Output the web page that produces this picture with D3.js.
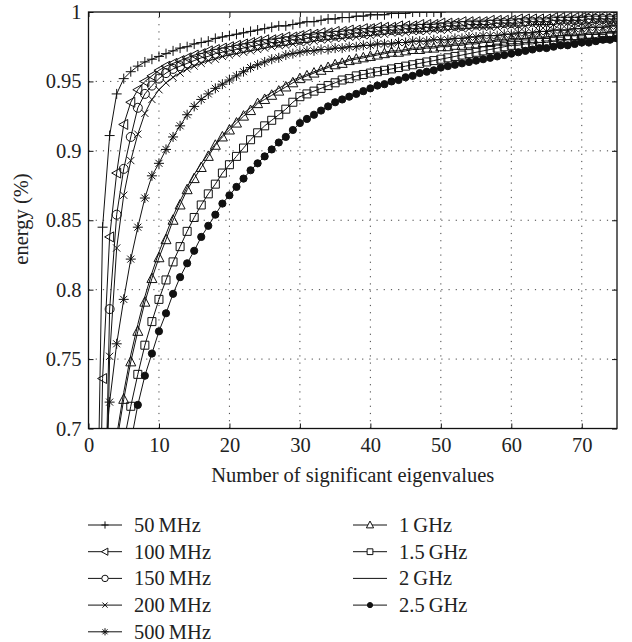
<!DOCTYPE html>
<html>
  <head>
    <script src="https://d3js.org/d3.v7.min.js" charset="utf-8"></script>
    <meta charset="UTF-8">
    <title>energy vs eigenvalues</title>
    <style>
      body { margin: 0; background: #fff; }
      text { font-family: "Liberation Serif", "DejaVu Serif", serif; fill: #222; }
      .grid line { stroke: #444; stroke-width: 1; stroke-dasharray: 1.2,6; }
      .curve { fill: none; stroke: #111; stroke-width: 1; }
      .mark { fill: none; stroke: #111; stroke-width: 1; }
    </style>
  </head>
  <body>
    <svg class="chart"></svg>
    <script type="text/javascript">

      var width = 632,
          height = 642,
          plotLeft = 88.5,
          plotRight = 617,
          plotTop = 12,
          plotBottom = 428.5,
          fontSize = "20.5px";

      // values, one per eigenvalue count, starting at xStart
      var labels = ["50\u2009MHz", "100\u2009MHz", "150\u2009MHz", "200\u2009MHz", "500\u2009MHz",
                    "1\u2009GHz", "1.5\u2009GHz", "2\u2009GHz", "2.5\u2009GHz"];
      var markers = ["plus", "triLeft", "circle", "times", "star", "triUp", "square", "none", "dot"];
      var xStart = [1, 1, 2, 2, 2, 4, 5, 4, 6];

      var mhz50 = [0.55, 0.845, 0.911, 0.941, 0.952, 0.957, 0.961, 0.964, 0.966, 0.968,
                   0.970, 0.972, 0.974, 0.975, 0.977, 0.978, 0.979, 0.981, 0.982, 0.983,
                   0.984, 0.985, 0.986, 0.987, 0.988, 0.989, 0.990, 0.990, 0.991, 0.992,
                   0.993, 0.993, 0.994, 0.995, 0.995, 0.996, 0.996, 0.997, 0.997, 0.998,
                   0.998, 0.998, 0.999, 0.999, 0.999, 1.0, 1.0, 1.0, 1.0, 1.0];
      var mhz100 = [0.45, 0.736, 0.838, 0.884, 0.919, 0.935, 0.944, 0.950, 0.954, 0.958,
                    0.961, 0.963, 0.965, 0.967, 0.969, 0.970, 0.972, 0.973, 0.974, 0.975,
                    0.976, 0.977, 0.978, 0.979, 0.980, 0.980, 0.981, 0.982, 0.982, 0.983,
                    0.984, 0.984, 0.985, 0.985, 0.986, 0.986, 0.987, 0.987, 0.988, 0.988,
                    0.989, 0.989, 0.989, 0.990, 0.990, 0.990, 0.991, 0.991, 0.991, 0.992,
                    0.992, 0.992, 0.993, 0.993, 0.993, 0.993, 0.994, 0.994, 0.994, 0.994,
                    0.995, 0.995, 0.995, 0.995, 0.995, 0.996, 0.996, 0.996, 0.996, 0.996,
                    0.997, 0.997, 0.997, 0.997, 0.997];
      var mhz150 = [0.55, 0.786, 0.854, 0.887, 0.910, 0.931, 0.941, 0.947, 0.952, 0.956,
                    0.959, 0.961, 0.963, 0.965, 0.967, 0.968, 0.970, 0.971, 0.972, 0.973,
                    0.974, 0.975, 0.976, 0.977, 0.978, 0.978, 0.979, 0.980, 0.980, 0.981,
                    0.982, 0.982, 0.983, 0.983, 0.984, 0.984, 0.985, 0.985, 0.986, 0.986,
                    0.987, 0.987, 0.987, 0.988, 0.988, 0.988, 0.989, 0.989, 0.989, 0.990,
                    0.990, 0.990, 0.991, 0.991, 0.991, 0.991, 0.992, 0.992, 0.992, 0.992,
                    0.993, 0.993, 0.993, 0.993, 0.994, 0.994, 0.994, 0.994, 0.994, 0.995,
                    0.995, 0.995, 0.995, 0.995];
      var mhz200 = [0.50, 0.752, 0.830, 0.868, 0.893, 0.912, 0.927, 0.937, 0.944, 0.949,
                    0.953, 0.956, 0.959, 0.961, 0.963, 0.965, 0.966, 0.968, 0.969, 0.970,
                    0.971, 0.972, 0.973, 0.974, 0.975, 0.976, 0.976, 0.977, 0.978, 0.978,
                    0.979, 0.980, 0.980, 0.981, 0.981, 0.982, 0.982, 0.983, 0.983, 0.984,
                    0.984, 0.985, 0.985, 0.985, 0.986, 0.986, 0.986, 0.987, 0.987, 0.987,
                    0.988, 0.988, 0.988, 0.989, 0.989, 0.989, 0.989, 0.990, 0.990, 0.990,
                    0.990, 0.991, 0.991, 0.991, 0.991, 0.992, 0.992, 0.992, 0.992, 0.992,
                    0.993, 0.993, 0.993, 0.993];
      var mhz500 = [0.66, 0.719, 0.761, 0.793, 0.822, 0.845, 0.866, 0.882, 0.891, 0.901,
                    0.910, 0.918, 0.926, 0.932, 0.937, 0.941, 0.945, 0.948, 0.951, 0.954,
                    0.957, 0.960, 0.962, 0.964, 0.966, 0.967, 0.969, 0.970, 0.971, 0.972,
                    0.972, 0.973, 0.973, 0.974, 0.974, 0.975, 0.975, 0.976, 0.976, 0.977,
                    0.977, 0.977, 0.978, 0.978, 0.979, 0.979, 0.979, 0.980, 0.980, 0.980,
                    0.981, 0.981, 0.982, 0.982, 0.983, 0.983, 0.983, 0.984, 0.984, 0.985,
                    0.985, 0.985, 0.986, 0.986, 0.987, 0.987, 0.987, 0.988, 0.988, 0.989,
                    0.989, 0.989, 0.990, 0.990];
      var ghz1 = [0.690, 0.721, 0.748, 0.770, 0.791, 0.808, 0.823, 0.836, 0.850, 0.861,
                  0.872, 0.880, 0.888, 0.896, 0.904, 0.910, 0.915, 0.920, 0.925, 0.929,
                  0.934, 0.937, 0.940, 0.943, 0.946, 0.949, 0.952, 0.954, 0.956, 0.958,
                  0.960, 0.962, 0.963, 0.965, 0.966, 0.967, 0.968, 0.969, 0.970, 0.971,
                  0.971, 0.972, 0.973, 0.973, 0.974, 0.974, 0.975, 0.975, 0.976, 0.976,
                  0.977, 0.977, 0.978, 0.978, 0.979, 0.979, 0.980, 0.980, 0.981, 0.981,
                  0.981, 0.982, 0.982, 0.983, 0.983, 0.983, 0.984, 0.984, 0.984, 0.985,
                  0.985, 0.985];
      var ghz15 = [0.690, 0.716, 0.739, 0.760, 0.777, 0.793, 0.807, 0.820, 0.831, 0.842,
                   0.852, 0.861, 0.869, 0.876, 0.884, 0.890, 0.896, 0.902, 0.908, 0.913,
                   0.918, 0.922, 0.926, 0.930, 0.935, 0.939, 0.941, 0.943, 0.945, 0.947,
                   0.949, 0.951, 0.952, 0.954, 0.955, 0.956, 0.957, 0.958, 0.959, 0.960,
                   0.961, 0.962, 0.963, 0.964, 0.965, 0.966, 0.967, 0.968, 0.969, 0.970,
                   0.971, 0.972, 0.973, 0.974, 0.975, 0.976, 0.976, 0.977, 0.977, 0.978,
                   0.978, 0.979, 0.979, 0.980, 0.980, 0.980, 0.981, 0.981, 0.981, 0.982,
                   0.982];
      var ghz2 = [0.695, 0.726, 0.753, 0.775, 0.795, 0.812, 0.827, 0.840, 0.853, 0.864,
                  0.874, 0.883, 0.891, 0.898, 0.905, 0.911, 0.917, 0.922, 0.927, 0.931,
                  0.935, 0.939, 0.942, 0.945, 0.948, 0.951, 0.953, 0.955, 0.957, 0.959,
                  0.961, 0.963, 0.964, 0.966, 0.967, 0.968, 0.969, 0.970, 0.971, 0.972,
                  0.972, 0.973, 0.974, 0.974, 0.975, 0.975, 0.976, 0.976, 0.977, 0.977,
                  0.978, 0.978, 0.979, 0.979, 0.980, 0.980, 0.981, 0.981, 0.981, 0.982,
                  0.982, 0.982, 0.983, 0.983, 0.984, 0.984, 0.984, 0.985, 0.985, 0.985,
                  0.986, 0.986];
      var ghz25 = [0.690, 0.717, 0.738, 0.754, 0.770, 0.783, 0.797, 0.809, 0.819, 0.828,
                   0.838, 0.846, 0.854, 0.862, 0.868, 0.874, 0.880, 0.886, 0.891, 0.896,
                   0.901, 0.906, 0.910, 0.915, 0.920, 0.923, 0.926, 0.929, 0.932, 0.935,
                   0.937, 0.939, 0.941, 0.943, 0.945, 0.947, 0.948, 0.950, 0.951, 0.953,
                   0.954, 0.956, 0.957, 0.958, 0.960, 0.961, 0.962, 0.963, 0.964, 0.965,
                   0.966, 0.967, 0.968, 0.969, 0.970, 0.971, 0.972, 0.973, 0.974, 0.974,
                   0.975, 0.976, 0.976, 0.977, 0.978, 0.978, 0.979, 0.980, 0.980, 0.981];

      var xTicks = [0, 10, 20, 30, 40, 50, 60, 70];
      var yTicks = [0.7, 0.75, 0.8, 0.85, 0.9, 0.95, 1];

      var values = [mhz50, mhz100, mhz150, mhz200, mhz500, ghz1, ghz15, ghz2, ghz25];
      var series = values.map(function(v, i) {
          return {label: labels[i], marker: markers[i],
                  points: v.map(function(e, j) { return {n: xStart[i] + j, e: e}; })};
      });

      var x = d3.scaleLinear().domain([0, 75]).range([plotLeft, plotRight]);
      var y = d3.scaleLinear().domain([0.7, 1]).range([plotBottom, plotTop]);

      function markerPath(type, s) {
          var p = d3.path();
          if (type == "plus") {
              p.moveTo(-s, 0); p.lineTo(s, 0); p.moveTo(0, -s); p.lineTo(0, s);
          } else if (type == "times") {
              var t = s * 0.72;
              p.moveTo(-t, -t); p.lineTo(t, t); p.moveTo(-t, t); p.lineTo(t, -t);
          } else if (type == "star") {
              var t = s * 0.7;
              p.moveTo(-s, 0); p.lineTo(s, 0); p.moveTo(0, -s); p.lineTo(0, s);
              p.moveTo(-t, -t); p.lineTo(t, t); p.moveTo(-t, t); p.lineTo(t, -t);
          } else if (type == "triLeft") {
              p.moveTo(-s, 0); p.lineTo(s * 0.8, -s); p.lineTo(s * 0.8, s); p.closePath();
          } else if (type == "triUp") {
              p.moveTo(0, -s * 1.1); p.lineTo(s, s * 0.8); p.lineTo(-s, s * 0.8); p.closePath();
          } else if (type == "square") {
              var t = s * 0.8;
              p.rect(-t, -t, 2 * t, 2 * t);
          } else if (type == "circle") {
              p.arc(0, 0, s * 0.9, 0, 2 * Math.PI);
          } else if (type == "dot") {
              p.arc(0, 0, s * 0.72, 0, 2 * Math.PI);
          }
          return p.toString();
      }

      var chart = d3.select(".chart")
          .attr("width", width)
          .attr("height", height);

      chart.append("rect").attr("width", width).attr("height", height).attr("fill", "#fff");

      chart.append("defs").append("clipPath").attr("id", "plot")
          .append("rect")
          .attr("x", plotLeft).attr("y", plotTop)
          .attr("width", plotRight - plotLeft).attr("height", plotBottom - plotTop);

      // dotted grid
      var grid = chart.append("g").attr("class", "grid");
      grid.selectAll(".gx").data(xTicks.slice(1)).enter().append("line")
          .attr("x1", function(d) { return x(d); }).attr("x2", function(d) { return x(d); })
          .attr("y1", plotBottom).attr("y2", plotTop);
      grid.selectAll(".gy").data(yTicks.slice(1, -1)).enter().append("line")
          .attr("y1", function(d) { return y(d); }).attr("y2", function(d) { return y(d); })
          .attr("x1", plotLeft).attr("x2", plotRight);

      var line = d3.line()
          .x(function(d) { return x(d.n); })
          .y(function(d) { return y(d.e); });

      var plot = chart.append("g").attr("clip-path", "url(#plot)");

      var curves = plot.selectAll(".s")
          .data(series)
          .enter().append("g");

      curves.append("path")
          .attr("class", "curve")
          .attr("d", function(d) { return line(d.points); });

      curves.each(function(s) {
          if (s.marker == "none") return;
          d3.select(this).selectAll(".mark")
              .data(s.points)
              .enter().append("path")
              .attr("class", "mark")
              .attr("transform", function(d) { return "translate(" + x(d.n) + "," + y(d.e) + ")"; })
              .attr("d", markerPath(s.marker, 5))
              .style("fill", s.marker == "dot" ? "#111" : "none");
      });

      // axes box with inward ticks on all sides
      var axes = chart.append("g");
      axes.append("g").attr("transform", "translate(0," + plotBottom + ")")
          .call(d3.axisBottom(x).tickValues(xTicks).tickSizeInner(-5).tickSizeOuter(0).tickPadding(9));
      axes.append("g").attr("transform", "translate(0," + plotTop + ")")
          .call(d3.axisTop(x).tickValues(xTicks).tickSizeInner(-5).tickSizeOuter(0).tickFormat(""));
      axes.append("g").attr("transform", "translate(" + plotLeft + ",0)")
          .call(d3.axisLeft(y).tickValues(yTicks).tickSizeInner(-5).tickSizeOuter(0).tickPadding(7)
                .tickFormat(function(d) { return d3.format("~g")(d); }));
      axes.append("g").attr("transform", "translate(" + plotRight + ",0)")
          .call(d3.axisRight(y).tickValues(yTicks).tickSizeInner(-5).tickSizeOuter(0).tickFormat(""));
      axes.selectAll(".domain").remove();
      axes.selectAll(".tick line").attr("stroke", "#111");
      axes.selectAll(".tick text")
          .style("font-family", '"Liberation Serif", "DejaVu Serif", serif')
          .style("font-size", fontSize)
          .attr("fill", "#222");
      axes.append("rect")
          .attr("x", plotLeft).attr("y", plotTop)
          .attr("width", plotRight - plotLeft).attr("height", plotBottom - plotTop)
          .attr("fill", "none").attr("stroke", "#111").attr("stroke-width", 1.3);

      chart.append("text")
          .attr("x", (plotLeft + plotRight) / 2)
          .attr("y", 482)
          .attr("text-anchor", "middle")
          .style("font-size", fontSize)
          .text("Number of significant eigenvalues");

      chart.append("text")
          .attr("transform", "translate(28,219) rotate(-90)")
          .attr("text-anchor", "middle")
          .style("font-size", fontSize)
          .text("energy (%)");

      // legend in two columns
      var legend = chart.append("g").selectAll("g")
          .data(series)
          .enter().append("g")
          .attr("transform", function(d, i) {
              var col = i < 5 ? 0 : 1, row = i < 5 ? i : i - 5;
              return "translate(" + (col ? 353 : 88) + "," + (525 + row * 26.7) + ")";
          });

      legend.append("line")
          .attr("x1", 0).attr("x2", 34)
          .attr("stroke", "#111").attr("stroke-width", 1);

      legend.append("path")
          .attr("class", "mark")
          .attr("transform", "translate(17,0)")
          .attr("d", function(d) { return markerPath(d.marker, 3.6); })
          .style("fill", function(d) { return d.marker == "dot" ? "#111" : "#fff"; });

      legend.append("text")
          .attr("x", 46)
          .attr("y", 7)
          .style("font-size", fontSize)
          .text(function(d) { return d.label; });

    </script>
  </body>
</html>
